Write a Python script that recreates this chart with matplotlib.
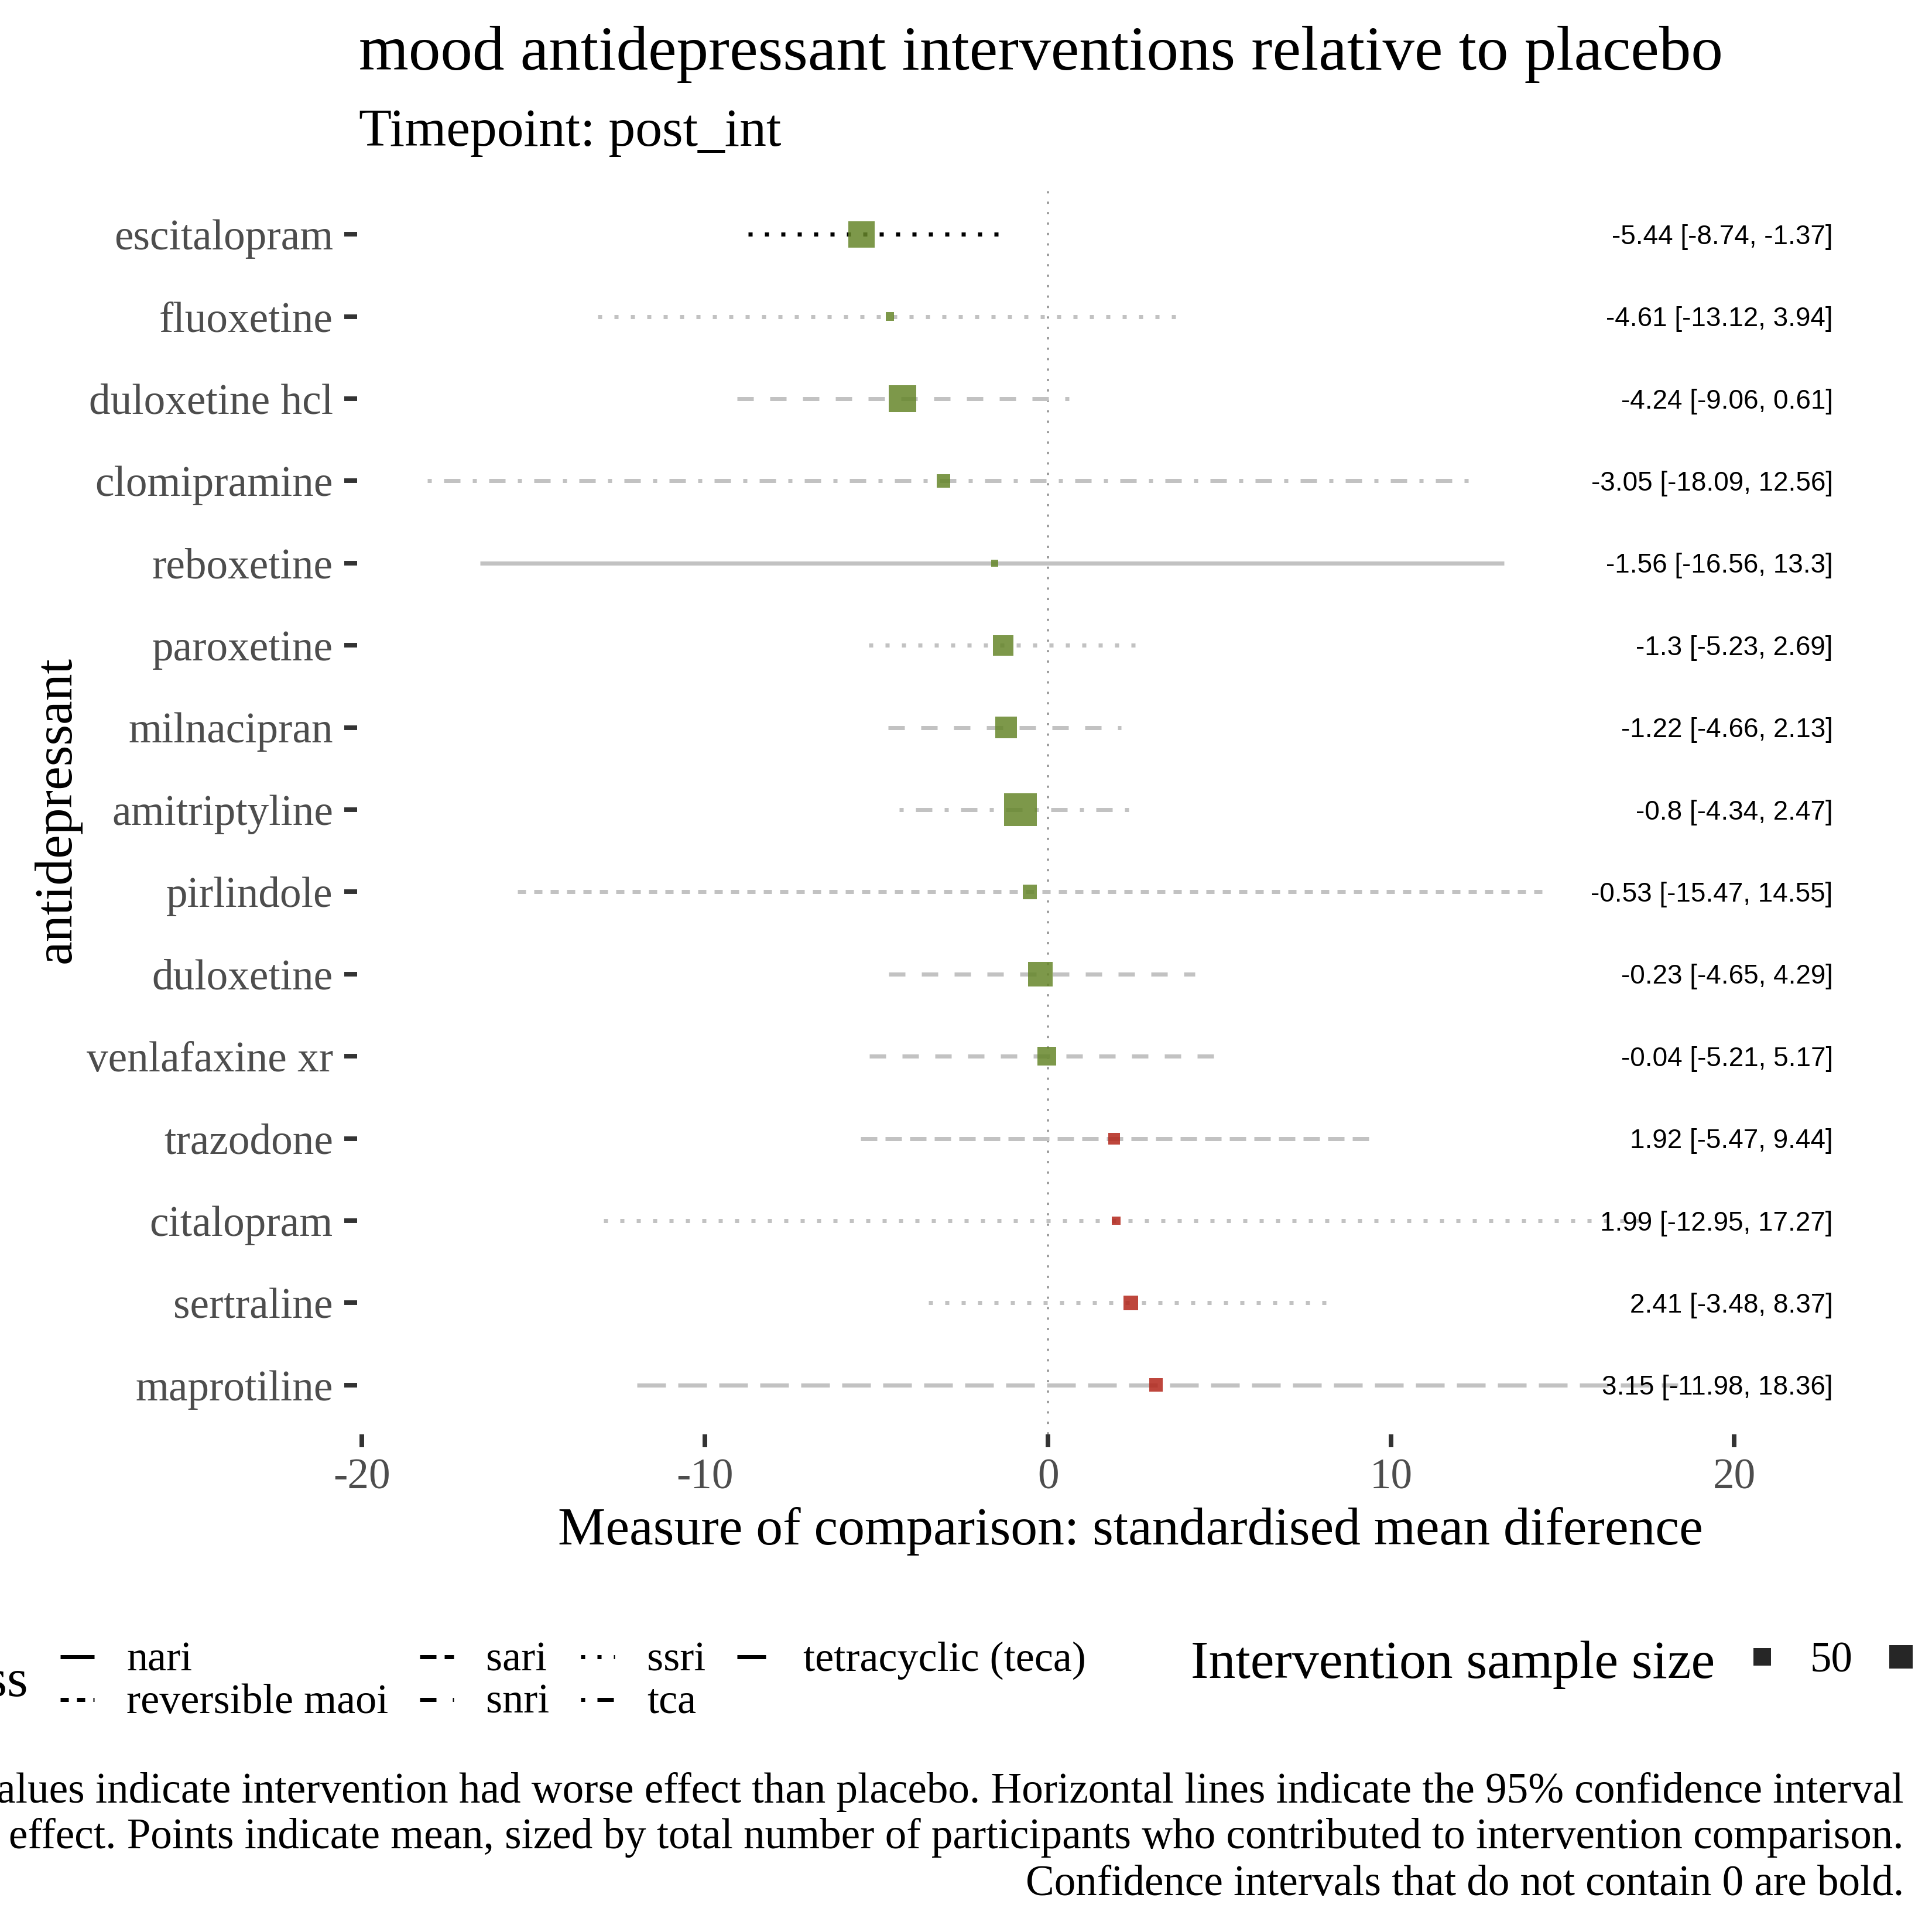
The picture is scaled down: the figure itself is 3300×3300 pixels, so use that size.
import numpy as np
import matplotlib
matplotlib.use('Agg')
import matplotlib.pyplot as plt
from matplotlib.lines import Line2D

plt.rcParams['font.family'] = 'Liberation Serif'
plt.rcParams['axes.unicode_minus'] = False

# data, top row first
drugs = ['escitalopram', 'fluoxetine', 'duloxetine hcl', 'clomipramine', 'reboxetine',
         'paroxetine', 'milnacipran', 'amitriptyline', 'pirlindole', 'duloxetine',
         'venlafaxine xr', 'trazodone', 'citalopram', 'sertraline', 'maprotiline']
means = [-5.44, -4.61, -4.24, -3.05, -1.56, -1.3, -1.22, -0.8, -0.53, -0.23, -0.04, 1.92, 1.99, 2.41, 3.15]
lowers = [-8.74, -13.12, -9.06, -18.09, -16.56, -5.23, -4.66, -4.34, -15.47, -4.65, -5.21, -5.47, -12.95, -3.48, -11.98]
uppers = [-1.37, 3.94, 0.61, 12.56, 13.3, 2.69, 2.13, 2.47, 14.55, 4.29, 5.17, 9.44, 17.27, 8.37, 18.36]
classes = ['ssri', 'ssri', 'snri', 'tca', 'nari', 'ssri', 'snri', 'tca', 'reversible maoi', 'snri',
           'snri', 'sari', 'ssri', 'ssri', 'tetracyclic (teca)']
sample_n = [133, 16, 147, 28, 15, 72, 82, 227, 33, 112, 58, 22, 16, 33, 28]

class_order = ['nari', 'reversible maoi', 'sari', 'snri', 'ssri', 'tca', 'tetracyclic (teca)']
size_breaks = [50, 100]

# ggplot-like linetypes (units of line width)
linetypes = {'nari': '-', 'reversible maoi': (0, (2, 2)), 'sari': (0, (4, 2)),
             'snri': (0, (4, 4)), 'ssri': (0, (1, 3)), 'tca': (0, (1, 3, 4, 3)),
             'tetracyclic (teca)': (0, (7, 3))}

GREEN = '#66862A'
RED = '#B3261A'
LW = 1.68
W = 3300.0

n_min, n_max = min(sample_n), max(sample_n)


def side_pt(n):
    # mimic scale_size area palette, range 1..6, shape 15
    size = 1 + 5 * np.sqrt((n - n_min) / (n_max - n_min))
    return 0.75 * (size * 72.27 / 25.4 + 0.945)


def fx(px):
    return px / W


def fy(py):
    return 1 - py / W


fig = plt.figure(figsize=(11, 11), dpi=300)
fig.patch.set_facecolor('white')
ax = fig.add_axes([fx(610), fy(2450), (3252 - 610) / W, (2450 - 316) / W])

ypos = np.arange(len(drugs))
ax.axvline(0, color='#999999', lw=0.9, ls=(0, (1, 3.75)), zorder=1)

for i in range(len(drugs)):
    bold = lowers[i] > 0 or uppers[i] < 0
    ax.plot([lowers[i], uppers[i]], [ypos[i], ypos[i]],
            color='black' if bold else '#C2C2C2', lw=LW,
            ls=linetypes[classes[i]], solid_capstyle='butt', dash_capstyle='butt', zorder=2)

cols = [GREEN if m < 0 else RED for m in means]
sides = np.array([side_pt(n) for n in sample_n])
ax.scatter(means, ypos, s=sides ** 2, marker='s', c=cols, alpha=0.85, linewidths=0, zorder=3)

for i in range(len(drugs)):
    ax.annotate(f"{means[i]} [{lowers[i]}, {uppers[i]}]", xy=(22.88, ypos[i]),
                xytext=(0, -4.0), textcoords='offset points', ha='right', va='baseline',
                fontsize=11, family='Liberation Sans', color='black', annotation_clip=False)

ax.set_xlim(-20.14, 24.95)
ax.set_ylim(14.6, -0.6)
ax.set_xticks([-20, -10, 0, 10, 20])
ax.set_xticklabels(['-20', '-10', '0', '10', '20'])
ax.set_yticks(ypos)
ax.set_yticklabels(drugs)
ax.tick_params(axis='both', length=5.3, width=1.9, color='#333333', pad=4.6,
               labelsize=17.6, labelcolor='#4D4D4D')
for s in ax.spines.values():
    s.set_visible(False)

# titles
fig.text(fx(613), fy(119), 'mood antidepressant interventions relative to placebo',
         fontsize=26.2, ha='left', va='baseline')
fig.text(fx(613), fy(249), 'Timepoint: post_int', fontsize=22, ha='left', va='baseline')
fig.text(fx(1931), fy(2638), 'Measure of comparison: standardised mean diference',
         fontsize=22, ha='center', va='baseline')
fig.text(fx(120), fy(1383), 'antidepressant', fontsize=22, rotation=90,
         rotation_mode='anchor', ha='center', va='baseline')

# class legend
fig.text(fx(48), fy(2897), 'Class', fontsize=22, ha='right', va='baseline')
label_x = [216, 830, 1105, 1372]
key_y = [2830, 2903]
lab_y = [2854, 2926]
for k, cl in enumerate(class_order):
    c, r = k // 2, k % 2
    x0 = label_x[c] - 113
    fig.add_artist(Line2D([fx(x0), fx(x0 + 58)], [fy(key_y[r])] * 2, transform=fig.transFigure,
                          color='black', lw=LW, ls=linetypes[cl], solid_capstyle='butt',
                          dash_capstyle='butt'))
    fig.text(fx(label_x[c]), fy(lab_y[r]), cl, fontsize=17.3, ha='left', va='baseline')

# sample size legend
fig.text(fx(2034), fy(2866), 'Intervention sample size', fontsize=22, ha='left', va='baseline')
sq_x = [3010, 3247]
for j, n in enumerate(size_breaks):
    fig.add_artist(Line2D([fx(sq_x[j])], [fy(2830)], transform=fig.transFigure, marker='s',
                          markersize=side_pt(n), markeredgewidth=0, color='black', alpha=0.85,
                          ls='none'))
fig.text(fx(3092), fy(2856), str(size_breaks[0]), fontsize=17.5, ha='left', va='baseline')

# caption, right aligned
cap = ['Positive values indicate intervention had worse effect than placebo. Horizontal lines indicate the 95% confidence interval',
       'of the effect. Points indicate mean, sized by total number of participants who contributed to intervention comparison.',
       'Confidence intervals that do not contain 0 are bold.']
for line, yb in zip(cap, [3079, 3157, 3237]):
    fig.text(fx(3252), fy(yb), line, fontsize=17.55, ha='right', va='baseline')

fig.savefig('out.png', dpi=300, facecolor='white')
